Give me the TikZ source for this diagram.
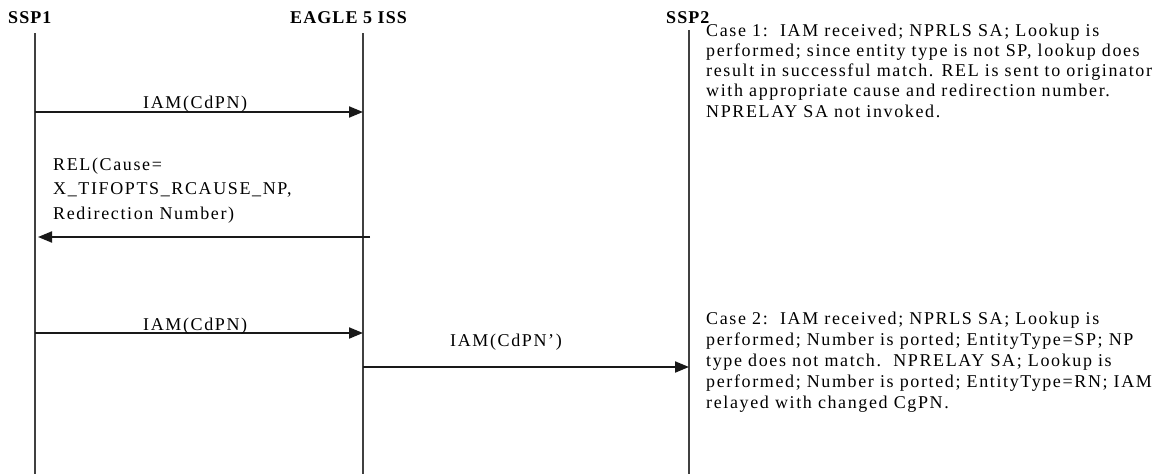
\documentclass[tikz,border=0pt]{standalone}
\usepackage{fontspec}
\setmainfont{Liberation Serif}[LetterSpace=9]
\newfontfamily\hdrfont{Liberation Serif}[LetterSpace=6]
\usetikzlibrary{arrows.meta}
\begin{document}
\begin{tikzpicture}[x=1pt,y=-1pt,
  lifeline/.style={line width=1.3pt,draw=black!75},
  msg/.style={line width=2pt,draw=black!90,-{Triangle[length=14pt,width=11pt]}},
  hdr/.style={anchor=base west,inner sep=0pt,font={\hdrfont\bfseries\fontsize{18}{20}\selectfont}},
  lbl/.style={anchor=base west,inner sep=0pt,font={\fontsize{18}{20}\selectfont}}
]
\useasboundingbox (0,0) rectangle (1162,474);
% headers
\node[hdr] (h1) at (8,23) {SSP1};
\node[hdr] (h2) at (290,23) {EAGLE 5 ISS};
\node[hdr] (h3) at (666,23) {SSP2};
% lifeline coordinates
\coordinate (s1t) at (35,33);  \coordinate (s1b) at (35,474);
\coordinate (egt) at (363,33); \coordinate (egb) at (363,474);
\coordinate (s2t) at (689,30); \coordinate (s2b) at (689,474);
\draw[lifeline] (s1t) -- (s1b);
\draw[lifeline] (egt) -- (egb);
\draw[lifeline] (s2t) -- (s2b);
% message coordinates
\coordinate (m1a) at (35,112);  \coordinate (m1b) at (363,112);
\coordinate (m2a) at (370,237); \coordinate (m2b) at (38,237);
\coordinate (m3a) at (35,333);  \coordinate (m3b) at (363,333);
\coordinate (m4a) at (363,367); \coordinate (m4b) at (689,367);
\draw[msg] (m1a) -- (m1b);
\draw[msg] (m2a) -- (m2b);
\draw[msg] (m3a) -- (m3b);
\draw[msg] (m4a) -- (m4b);
% labels (multi-line nodes: base = baseline of last line)
\node[lbl] (l1) at (143,108) {IAM(CdPN)};
\node[lbl,align=left,font={\fontsize{18}{24.5}\selectfont}] (l2) at (53,219) {REL(Cause=\\X\_TIFOPTS\_RCAUSE\_NP,\\Redirection Number)};
\node[lbl] (l3) at (143,330) {IAM(CdPN)};
\node[lbl] (l4) at (450,346) {IAM(CdPN’)};
% notes
\node[lbl,align=left,font={\fontsize{18}{20.3}\selectfont}] (c1) at (706,117.2) {Case 1:\ \ IAM received; NPRLS SA; Lookup is\\performed; since entity type is not SP, lookup does\\result in successful match. REL is sent to originator\\with appropriate cause and redirection number.\\NPRELAY SA not invoked.};
\node[lbl,align=left,font={\fontsize{18}{21.2}\selectfont}] (c2) at (706,408.8) {Case 2:\ \ IAM received; NPRLS SA; Lookup is\\performed; Number is ported; EntityType=SP; NP\\type does not match.\ \ NPRELAY SA; Lookup is\\performed; Number is ported; EntityType=RN; IAM\\relayed with changed CgPN.};
\end{tikzpicture}
\end{document}
